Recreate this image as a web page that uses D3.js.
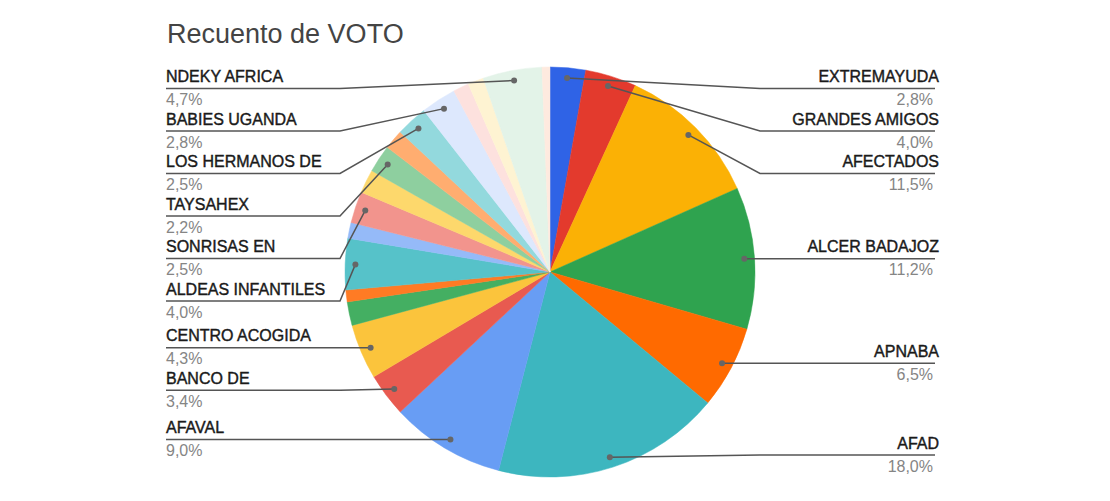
<!DOCTYPE html>
<html>
<head>
<meta charset="utf-8">
<script src="https://cdn.jsdelivr.net/npm/d3@7"></script>
<style>
  html, body { margin: 0; padding: 0; background: #fff; }
  svg { display: block; font-family: Arial, "Liberation Sans", sans-serif; }
</style>
</head>
<body>
<svg id="chart" width="1110" height="501"></svg>
<script>
// ---- data (counts of votes; total 322) ----
const title = "Recuento de VOTO";
const categories = [
  "EXTREMAYUDA", "GRANDES AMIGOS", "AFECTADOS", "ALCER BADAJOZ", "APNABA",
  "AFAD", "AFAVAL", "BANCO DE", "CENTRO ACOGIDA", "Otra 1", "Otra 2",
  "ALDEAS INFANTILES", "Otra 3", "SONRISAS EN", "Otra 4", "TAYSAHEX",
  "Otra 5", "LOS HERMANOS DE", "BABIES UGANDA", "Otra 6", "Otra 7",
  "NDEKY AFRICA", "Otra 8"
];
const votes = [9, 13, 37, 36, 21, 58, 29, 11, 14, 6, 3, 13, 4, 8, 6, 7, 5, 8, 9, 4, 4, 15, 2];
const showLabel = [true, true, true, true, true, true, true, true, true, false, false,
  true, false, true, false, true, false, true, true, false, false, true, false];
const colors = [
  "#2f63e6", "#e33a2d", "#fbb105", "#2fa34f", "#ff6a00", "#3db6bf", "#689df4",
  "#e85a50", "#fbc43c", "#44af62", "#ff7b24", "#56c2c9", "#95baf8", "#f2948d",
  "#fdd86c", "#8ecf9f", "#ffad70", "#93d9dd", "#dde8fd", "#fde1de", "#fef3d2",
  "#e3f3e8", "#feeadf"
];

// ---- layout ----
const svg = d3.select("#chart");
const cx = 550, cy = 272, R = 205;
const total = d3.sum(votes);
const fmt = v => (v / total * 100).toFixed(1).replace(".", ",") + "%";

svg.append("text")
  .attr("x", 167).attr("y", 43)
  .attr("font-size", 27).attr("fill", "#444")
  .text(title);

const data = categories.map((c, i) => ({ name: c, value: votes[i], color: colors[i], label: showLabel[i] }));
const pie = d3.pie().value(d => d.value).sort(null);
const arcs = pie(data);
const arc = d3.arc().innerRadius(0).outerRadius(R);
const dotArc = d3.arc().innerRadius(R * 0.95).outerRadius(R * 0.95);

const g = svg.append("g").attr("transform", `translate(${cx},${cy})`);
g.selectAll("path.slice").data(arcs).enter().append("path")
  .attr("class", "slice")
  .attr("d", arc)
  .attr("fill", d => d.data.color)
  .attr("stroke", d => d.data.color)
  .attr("stroke-width", 0.5);

// label placement
const labeled = arcs.filter(a => a.data.label).map(a => {
  const mid = (a.startAngle + a.endAngle) / 2;
  const [dx, dy] = dotArc.centroid(a);
  return { a, mid, dotX: cx + dx, dotY: cy + dy, side: mid < Math.PI ? "right" : "left" };
});
const spacing = 42.5, topY = 88.5, bottomY = 455;
["left", "right"].forEach(side => {
  const items = labeled.filter(l => l.side === side).sort((p, q) => p.dotY - q.dotY);
  let prev = -Infinity;
  items.forEach(it => {
    let y = Math.max(it.dotY, topY, prev + spacing);
    it.lineY = y; prev = y;
  });
  let next = Infinity;
  for (let i = items.length - 1; i >= 0; i--) {
    const it = items[i];
    it.lineY = Math.min(it.lineY, bottomY, next - spacing);
    next = it.lineY;
  }
});

const leftTextX = 166, rightNameX = 939, rightPctX = 933, rightLineEnd = 935;
const bendOff = R + 5;
const lg = svg.append("g");
labeled.forEach(l => {
  const isR = l.side === "right";
  const bendX = isR ? cx + bendOff : cx - bendOff;
  const endX = isR ? rightLineEnd : leftTextX;
  lg.append("polyline")
    .attr("points", `${endX},${l.lineY} ${bendX},${l.lineY} ${l.dotX},${l.dotY}`)
    .attr("fill", "none").attr("stroke", "#555").attr("stroke-width", 1.5);
  lg.append("circle")
    .attr("cx", l.dotX).attr("cy", l.dotY).attr("r", 3)
    .attr("fill", "#666");
  lg.append("text")
    .attr("x", isR ? rightNameX : leftTextX).attr("y", l.lineY - 6.5)
    .attr("text-anchor", isR ? "end" : "start")
    .attr("font-size", 16).attr("fill", "#1a1a1a")
    .attr("stroke", "#1a1a1a").attr("stroke-width", 0.4)
    .text(l.a.data.name);
  lg.append("text")
    .attr("x", isR ? rightPctX : leftTextX).attr("y", l.lineY + 16.5)
    .attr("text-anchor", isR ? "end" : "start")
    .attr("font-size", 16).attr("fill", "#858585")
    .text(fmt(l.a.data.value));
});
</script>
</body>
</html>
